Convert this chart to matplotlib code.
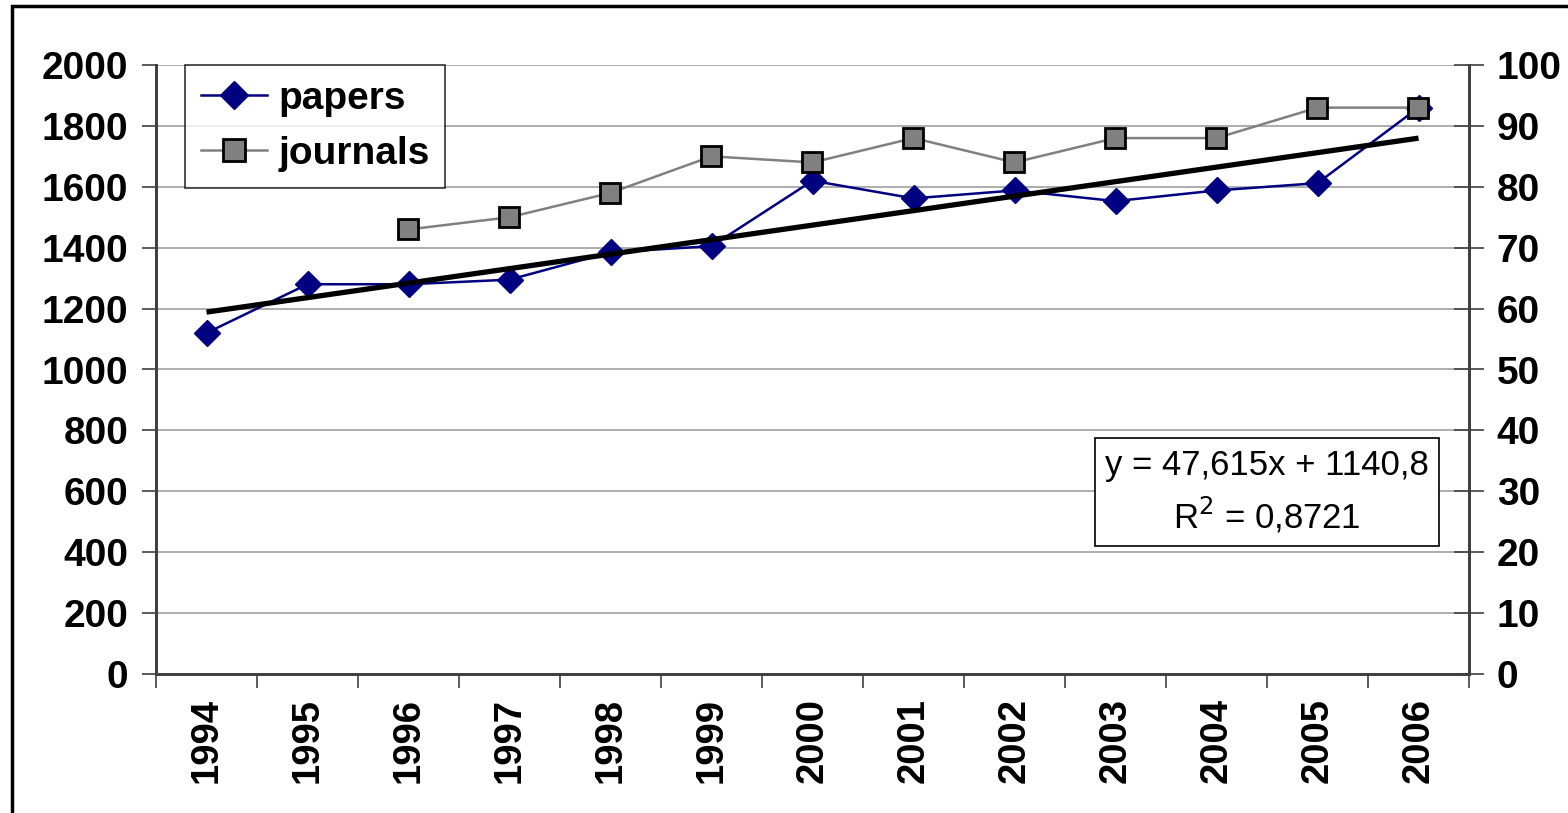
import numpy as np
import matplotlib.pyplot as plt
from matplotlib.patches import Rectangle

years = ['1994', '1995', '1996', '1997', '1998', '1999', '2000',
         '2001', '2002', '2003', '2004', '2005', '2006']
papers = [1120, 1280, 1280, 1295, 1385, 1405, 1620, 1562, 1588, 1553, 1588, 1612, 1860]
journals = [np.nan, np.nan, 73, 75, 79, 85, 84, 88, 84, 88, 88, 93, 93]

# linear trend from the chart label
slope = 47.615
intercept = 1140.8
r2 = 0.8721

plt.rcParams['font.family'] = ['Liberation Sans', 'DejaVu Sans']

fig = plt.figure(figsize=(15.68, 8.13), dpi=100)
ax = fig.add_axes([156 / 1568, 1 - 674 / 813, (1469 - 156) / 1568, (674 - 65) / 813])
ax2 = ax.twinx()

# outer chart frame (only left/top visible)
fig.patches.append(Rectangle((12 / 1568, -0.1), 1.2, 1 - 6 / 813 + 0.1, transform=fig.transFigure,
                             fill=False, edgecolor='black', linewidth=2.5))

x = np.arange(len(years))
trend = slope * (x + 1) + intercept

ax.plot(x, papers, color='#000080', linewidth=1.8, marker='D', markersize=13,
        markerfacecolor='#000080', markeredgecolor='#000080', label='papers', zorder=4)
ax.plot(x, trend, color='black', linewidth=3.8, zorder=5, solid_capstyle='butt')
ax2.plot(x, journals, color='#808080', linewidth=1.8, marker='s', markersize=15,
         markerfacecolor='#808080', markeredgecolor='black', markeredgewidth=2, label='journals')

ax.set_xlim(-0.5, len(years) - 0.5)
ax.set_ylim(0, 2000)
ax2.set_ylim(0, 100)
ax.set_yticks(range(0, 2001, 200))
ax2.set_yticks(range(0, 101, 10))
ax.yaxis.grid(True, color='#a0a0a0', linewidth=1.2)
ax.set_axisbelow(True)

ax.set_xticks(x)
ax.set_xticklabels(years, rotation=90, fontsize=27.5, fontweight='bold')
ax.set_xticks(np.arange(-0.5, len(years)), minor=True)
ax.tick_params(axis='x', which='major', length=0, pad=17)
ax.tick_params(axis='x', which='minor', length=10, width=1.2, color='#404040')
ax.tick_params(axis='y', labelsize=28, length=10, width=1.2, color='#404040', pad=10)
ax2.tick_params(axis='y', labelsize=28, direction='inout', length=22, width=1.2, color='#404040', pad=9)
for lab in ax.get_yticklabels() + ax2.get_yticklabels():
    lab.set_fontweight('bold')

for a in (ax, ax2):
    a.spines['top'].set_visible(False)
    for s in ('left', 'right', 'bottom'):
        a.spines[s].set_linewidth(2)
        a.spines[s].set_color('#404040')

h1, l1 = ax.get_legend_handles_labels()
h2, l2 = ax2.get_legend_handles_labels()
leg = ax2.legend(h1 + h2, l1 + l2, loc='upper left', bbox_to_anchor=(29 / 1313, 1.0),
                 prop={'size': 28, 'weight': 'bold'}, frameon=True, fancybox=False,
                 edgecolor='black', borderpad=0.4, labelspacing=0.5, handlelength=1.7,
                 handletextpad=0.3, borderaxespad=0, markerscale=1.1)
leg.get_frame().set_linewidth(1.2)

ax2.text(1267 / 1568, 1 - 492 / 813, f'y = {slope:.3f}x + {intercept:.1f}\nR$^2$ = {r2:.4f}'.replace('.', ','),
         transform=fig.transFigure, ha='center', va='center', fontsize=25, linespacing=1.4,
         bbox=dict(boxstyle='square,pad=0.3', facecolor='white', edgecolor='black', linewidth=1.2))

fig.savefig('out.png', dpi=100)
